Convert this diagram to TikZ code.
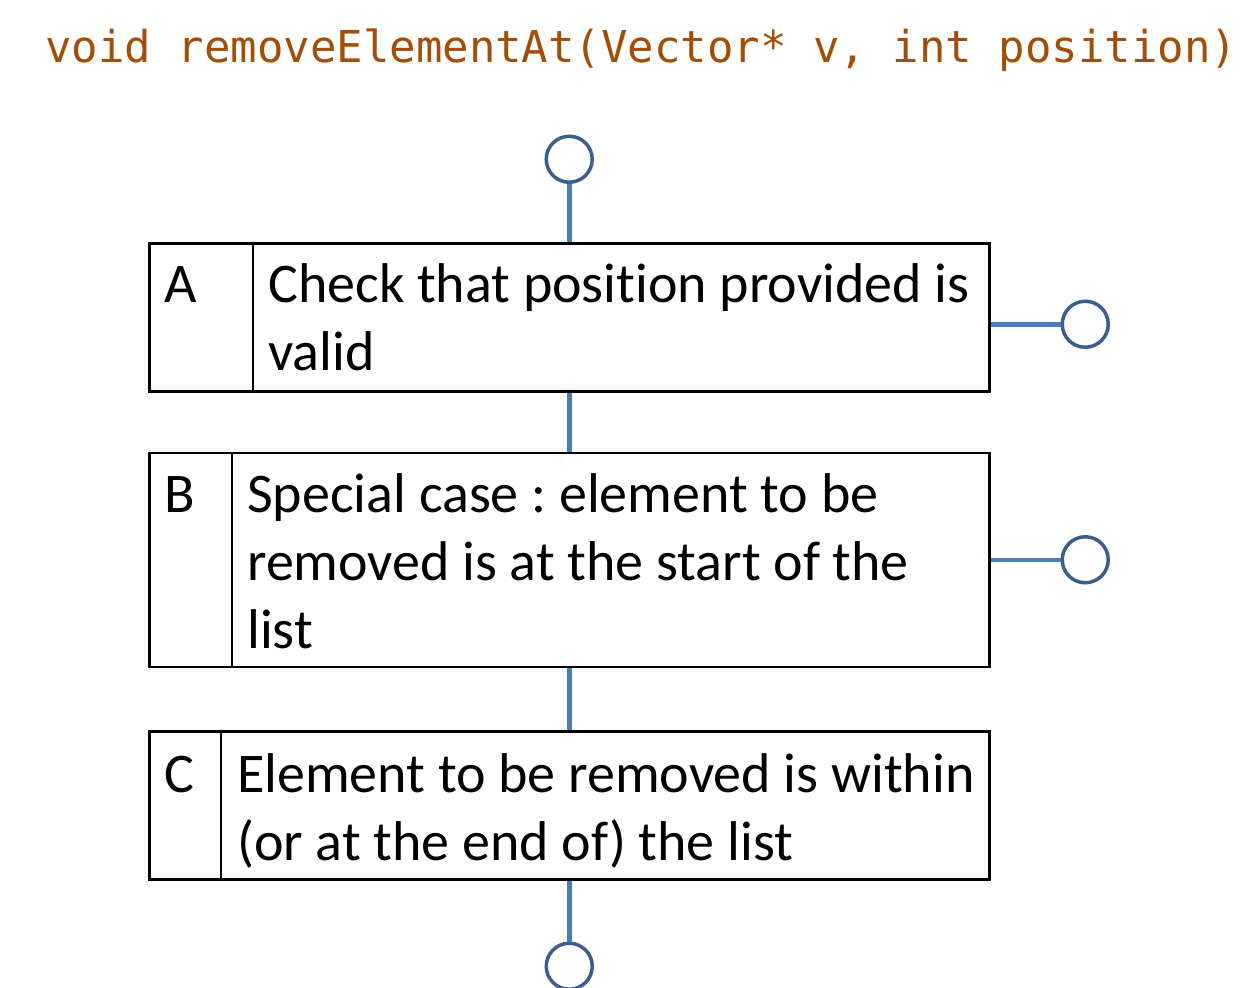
\documentclass[tikz,border=0pt]{standalone}
\usepackage{fontspec}
\setmainfont{Carlito}[Ligatures=NoCommon]
\newfontfamily\codefont{DejaVu Sans Mono}
\usepackage{tikz}
\usetikzlibrary{positioning, calc}
\definecolor{myblue}{RGB}{74, 126, 187}
\definecolor{mydarkblue}{RGB}{58, 95, 140}
\definecolor{mybrown}{RGB}{163, 78, 8}
\frenchspacing

\begin{document}
\begin{tikzpicture}[
   x=1pt, y=-1pt,
   every node/.style     = {font=\fontsize{56}{68}\selectfont},
    node distance          = 60pt and 70pt,
         stepBox/.style    = {rectangle, draw=black, line width=2.5, minimum width=840pt, inner sep=0pt},
         letterLabel/.style = {inner sep=0pt, anchor=base west},
         stepText/.style   = {inner sep=0pt, anchor=base west, align=left},
         terminalNode/.style = {circle, draw=mydarkblue, line width=3.5, minimum size=46pt, inner sep=0pt},
         divider/.style    = {line width=2},
         myline/.style     = {draw=myblue, line width=4.5}
]

\useasboundingbox (0,0) rectangle (1256,988);

\node[inner sep=0pt, anchor=base west, text=mybrown, font=\codefont\fontsize{44}{50}\selectfont] (signature) at (45,62) {void removeElementAt(Vector* v, int position)};

% the three steps
\node[stepBox, minimum height=148pt, anchor=north west] (boxA) at (148,242) {};
\node[stepBox, minimum height=214pt, below=59pt of boxA] (boxB) {};
\node[stepBox, minimum height=148pt, below=62pt of boxB] (boxC) {};

\draw[divider] ([xshift=105pt]boxA.north west) -- ([xshift=105pt]boxA.south west);
\draw[divider] ([xshift=84pt]boxB.north west) -- ([xshift=84pt]boxB.south west);
\draw[divider] ([xshift=73pt]boxC.north west) -- ([xshift=73pt]boxC.south west);

\node[letterLabel] (letA) at (164,302) {A};
\node[letterLabel] (letB) at (164,512) {B};
\node[letterLabel] (letC) at (164,792) {C};

% base of a multi-line node is its last line
\node[stepText] (textA) at (268,370) {Check that position provided is\\valid};
\node[stepText] (textB) at (247,648) {Special case : element to be\\removed is at the start of the\\list};
\node[stepText] (textC) at (237,860) {Element to be removed is within\\(or at the end of) the list};

% terminals
\node[terminalNode, above=58pt of boxA] (start) {};
\node[terminalNode, right=70pt of boxA, yshift=-7pt] (exitA) {};
\node[terminalNode, right=70pt of boxB] (exitB) {};
\node[terminalNode, below=61pt of boxC] (finish) {};

\draw[myline] (start) -- (boxA);
\draw[myline] (boxA) -- (boxB);
\draw[myline] (boxB) -- (boxC);
\draw[myline] (boxC) -- (finish);
\draw[myline] (boxA.east |- exitA) -- (exitA);
\draw[myline] (boxB) -- (exitB);

\end{tikzpicture}
\end{document}
